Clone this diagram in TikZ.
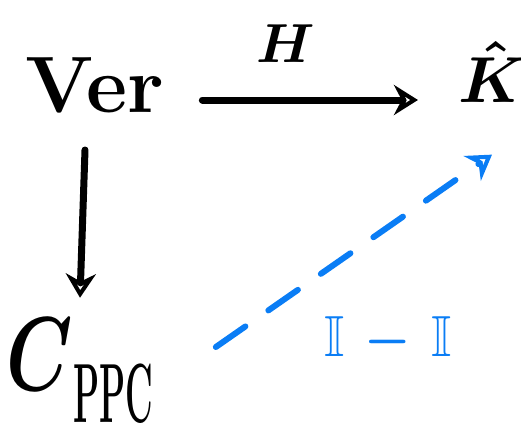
\documentclass[tikz,border=0pt]{standalone}
\usepackage{graphicx}
\usepackage{amssymb}
\usepackage{bm}
\usetikzlibrary{arrows.meta,calc}
\definecolor{inkblue}{RGB}{10,125,245}
\tikzset{
  lbl/.style={inner sep=0pt, font=\fontsize{80}{80}\selectfont\bfseries},
  arr/.style={line width=7pt, line cap=round, -{Stealth[length=24pt,width=30pt,open, line width=6pt]}},
  bluearr/.style={inkblue, line width=6pt, line cap=round, dash pattern=on 36pt off 28pt, -{Stealth[length=24pt,width=30pt,open,line width=6pt]}}
}
\begin{document}
\begin{tikzpicture}[x=1pt,y=-1pt]
\useasboundingbox (0,0) rectangle (521,439);
\node[lbl] (ver) at (95,85) {Ver};
\node[inner sep=0pt] (khat) at (492,72) {\scalebox{6.5}{\boldmath$\hat{K}$}};
\node[inner sep=0pt, anchor=base west] (cppc) at (6,390) {\scalebox{7.5}[10.5]{\boldmath$C$}\hspace{1pt}\raisebox{-32pt}{\scalebox{0.85}[2.1]{\fontsize{40}{40}\selectfont\bfseries PPC}}};
\node[inkblue, inner sep=0pt] (lab) at (388,340) {\scalebox{5.2}[5.8]{$\mathbb{I}\,\bm{-}\,\mathbb{I}$}};
\node[inner sep=0pt] (h) at (286,44) {\scalebox{5.5}{\boldmath$H$}};
\draw[arr] ($(ver.east |- 0,100)+(38,0)$) -- ($(khat.west |- 0,100)+(-40,0)$);
\draw[arr] ($(ver.south -| 85,0)+(0,37)$) -- ($(cppc.north -| 80,0)+(0,-20)$);
\draw[bluearr] ($(cppc.east |- 0,347)+(62,0)$) -- ($(khat.south)+(0,52)$);
\end{tikzpicture}
\end{document}
